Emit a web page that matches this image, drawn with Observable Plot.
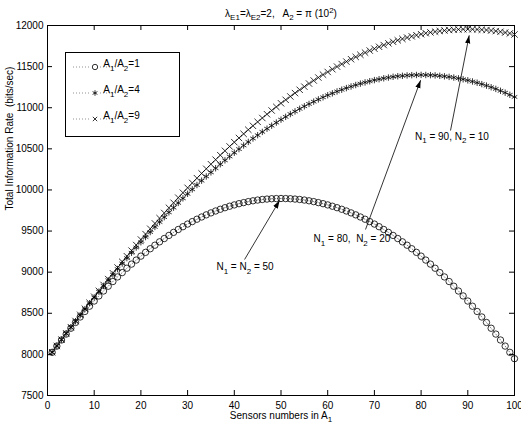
<!DOCTYPE html>
<html><head><meta charset="utf-8">
<script src="https://cdn.jsdelivr.net/npm/d3@7"></script>
<script src="https://cdn.jsdelivr.net/npm/@observablehq/plot@0.6"></script>
<style>
html,body{margin:0;padding:0;background:#fff;}
svg text{font-family:"Liberation Sans",Arial,Helvetica,sans-serif;}
</style></head><body><div id="chart"></div>
<script>
// ---- data ----
const sensorsA1 = d3.range(1, 101); // N1 = 1..100
const rateRatio1 = [8025, 8101, 8175, 8247, 8318, 8388, 8455, 8522, 8586, 8649,
 8711, 8771, 8829, 8886, 8942, 8995, 9048, 9098, 9147, 9195,
 9241, 9285, 9328, 9369, 9409, 9447, 9484, 9519, 9553, 9585,
 9615, 9644, 9671, 9697, 9721, 9744, 9765, 9784, 9802, 9818,
 9833, 9846, 9858, 9868, 9877, 9884, 9889, 9893, 9895, 9896,
 9895, 9893, 9889, 9884, 9877, 9868, 9858, 9846, 9833, 9818,
 9802, 9784, 9765, 9744, 9721, 9697, 9671, 9644, 9615, 9585,
 9553, 9519, 9484, 9447, 9409, 9369, 9328, 9285, 9241, 9195,
 9147, 9098, 9048, 8995, 8942, 8886, 8829, 8771, 8711, 8649,
 8586, 8522, 8455, 8388, 8318, 8247, 8175, 8101, 8025, 7948];
const rateRatio4 = [8026, 8103, 8179, 8254, 8329, 8403, 8477, 8550, 8622, 8693,
 8763, 8833, 8902, 8971, 9038, 9105, 9171, 9236, 9300, 9364,
 9427, 9488, 9550, 9610, 9669, 9728, 9785, 9842, 9898, 9953,
 10007, 10060, 10113, 10164, 10214, 10264, 10313, 10360, 10407, 10453,
 10497, 10541, 10584, 10626, 10666, 10706, 10745, 10782, 10819, 10855,
 10889, 10923, 10955, 10987, 11017, 11046, 11074, 11101, 11127, 11152,
 11175, 11198, 11219, 11239, 11258, 11276, 11293, 11308, 11322, 11336,
 11347, 11358, 11367, 11376, 11383, 11388, 11393, 11396, 11398, 11399,
 11398, 11396, 11393, 11388, 11382, 11375, 11367, 11357, 11346, 11333,
 11319, 11304, 11287, 11269, 11249, 11229, 11206, 11183, 11157, 11131];
const rateRatio9 = [8026, 8103, 8180, 8256, 8331, 8406, 8481, 8555, 8628, 8701,
 8773, 8845, 8916, 8987, 9057, 9126, 9194, 9262, 9330, 9397,
 9463, 9528, 9593, 9657, 9720, 9783, 9844, 9906, 9966, 10026,
 10085, 10143, 10201, 10257, 10313, 10368, 10423, 10476, 10529, 10581,
 10632, 10682, 10732, 10780, 10828, 10875, 10921, 10966, 11010, 11054,
 11096, 11137, 11178, 11218, 11256, 11294, 11331, 11367, 11402, 11435,
 11468, 11500, 11531, 11561, 11590, 11618, 11644, 11670, 11695, 11718,
 11741, 11762, 11783, 11802, 11820, 11837, 11853, 11868, 11882, 11894,
 11906, 11916, 11925, 11933, 11939, 11945, 11949, 11952, 11954, 11955,
 11954, 11952, 11949, 11945, 11939, 11932, 11924, 11914, 11904, 11891];

const seriesNames = ["A_{1}/A_{2}=1", "A_{1}/A_{2}=4", "A_{1}/A_{2}=9"];
const seriesSymbols = ["circle", "asterisk", "times"];
const seriesR = [3.2, 3.0, 3.0];

const xTicks = [0, 10, 20, 30, 40, 50, 60, 70, 80, 90, 100];
const yTicks = [7500, 8000, 8500, 9000, 9500, 10000, 10500, 11000, 11500, 12000];

const titleText = "λ_{E1}=λ_{E2}=2,   A_{2} = π (10^{2})";
const xLabelText = "Sensors numbers in A_{1}";
const yLabelText = "Total Information Rate  (bits/sec)";

// annotations (data coordinates)
const annoLabels = ["N_{1} = N_{2} = 50", "N_{1} = 80,  N_{2} = 20", "N_{1} = 90, N_{2} = 10"];
const annoLabelX = [42.3, 65.2, 86.6];
const annoLabelY = [9060, 9400, 10650];
const annoTailX = [42.2, 68.1, 86.3];
const annoTailY = [9154, 9519, 10723];
const annoTipX = [49.7, 79.9, 90.3];
const annoTipY = [9872, 11335, 11880];

// ---- build tables ----
const allSeries = [rateRatio1, rateRatio4, rateRatio9];
const table = allSeries.map((vals, s) => sensorsA1.map((n, i) => ({n, v: vals[i], s})));
const annos = annoLabels.map((t, i) => ({t, lx: annoLabelX[i], ly: annoLabelY[i], x1: annoTailX[i], y1: annoTailY[i], x2: annoTipX[i], y2: annoTipY[i]}));

// filled arrow-head marker
function filledHead(color) {
  return d3.create("svg:marker")
    .attr("viewBox", "-8 -4 8 8")
    .attr("markerWidth", 8)
    .attr("markerHeight", 8)
    .attr("markerUnits", "userSpaceOnUse")
    .attr("refX", 0).attr("refY", 0)
    .attr("orient", "auto")
    .attr("fill", color)
    .attr("stroke", "none")
    .call(m => m.append("path").attr("d", "M-8,-2.6L0,0L-8,2.6Z"))
    .node();
}

const W = 521, H = 431;
const chart = Plot.plot({
  width: W, height: H,
  marginLeft: 47, marginRight: 7, marginTop: 25, marginBottom: 36,
  style: {fontFamily: "Liberation Sans, Arial, Helvetica, sans-serif", fontSize: "10px", background: "white", color: "black"},
  x: {domain: [0, 100]},
  y: {domain: [7500, 12000]},
  marks: [
    Plot.frame({stroke: "black", strokeWidth: 1}),
    Plot.axisX({ticks: xTicks, tickSize: 0, tickPadding: 6, label: null, tickFormat: d => String(d)}),
    Plot.axisY({ticks: yTicks, tickSize: 0, tickPadding: 4, label: null, tickFormat: d => String(d)}),
    Plot.tickX(xTicks, {x: d => d, insetTop: 365, stroke: "black"}),
    Plot.tickX(xTicks, {x: d => d, insetBottom: 365, stroke: "black"}),
    Plot.tickY(yTicks, {y: d => d, insetRight: 462, stroke: "black"}),
    Plot.tickY(yTicks, {y: d => d, insetLeft: 462, stroke: "black"}),
    ...table.map((rows, s) => Plot.line(rows, {x: "n", y: "v", stroke: "black", strokeWidth: 0.5, strokeDasharray: "1,2"})),
    ...table.map((rows, s) => Plot.dot(rows, {x: "n", y: "v", symbol: seriesSymbols[s], r: seriesR[s], stroke: "black", strokeWidth: 0.8, fill: "none"})),
    Plot.link(annos, {x1: "x1", y1: "y1", x2: "x2", y2: "y2", stroke: "black", strokeWidth: 0.8, markerEnd: filledHead}),
    Plot.text(annos, {x: "lx", y: "ly", text: "t", fontSize: 10, fill: "black"}),
    Plot.text([titleText], {frameAnchor: "top", dy: -16, text: d => d, fontSize: 10, fill: "black"}),
    Plot.text([xLabelText], {frameAnchor: "bottom", dy: 23, text: d => d, fontSize: 10, fill: "black"}),
    Plot.text([yLabelText], {frameAnchor: "left", dx: -38, rotate: -90, text: d => d, fontSize: 10, fill: "black"})
  ]
});
document.getElementById("chart").appendChild(chart);

// ---- legend ----
const svg = d3.select(chart);
const lg = svg.append("g");
lg.append("rect").attr("x", 65.5).attr("y", 52.5).attr("width", 114).attr("height", 84)
  .attr("fill", "white").attr("stroke", "black").attr("stroke-width", 1);
const rowY = [67, 93, 119];
const legendR = [2.7, 2.6, 2.1];
const symMap = {circle: d3.symbolCircle, asterisk: d3.symbolAsterisk, times: d3.symbolTimes};
seriesNames.forEach((name, i) => {
  lg.append("line").attr("x1", 73).attr("x2", 117).attr("y1", rowY[i]).attr("y2", rowY[i])
    .attr("stroke", "#777").attr("stroke-width", 0.8).attr("stroke-dasharray", "1,2");
  lg.append("rect").attr("x", 91).attr("y", rowY[i] - 4).attr("width", 8).attr("height", 8).attr("fill", "white");
  lg.append("path").attr("transform", `translate(95,${rowY[i]})`)
    .attr("d", d3.symbol(symMap[seriesSymbols[i]], Math.PI * legendR[i] * legendR[i])())
    .attr("fill", "none").attr("stroke", "black").attr("stroke-width", 0.8);
  lg.append("text").attr("x", 121.5).attr("y", rowY[i]).attr("dy", "0.32em")
    .attr("font-size", 10).attr("fill", "black").text(name);
});

// ---- sub/superscript rendering ----
function richify(el) {
  const s = el.textContent;
  if (!/[_^]\{/.test(s)) return;
  const parts = [];
  const re = /([_^])\{([^}]*)\}/g;
  let last = 0, m;
  while ((m = re.exec(s))) {
    if (m.index > last) parts.push({t: s.slice(last, m.index), k: ""});
    parts.push({t: m[2], k: m[1]});
    last = re.lastIndex;
  }
  if (last < s.length) parts.push({t: s.slice(last), k: ""});
  while (el.firstChild) el.removeChild(el.firstChild);
  let shift = 0;
  for (const p of parts) {
    const ts = document.createElementNS("http://www.w3.org/2000/svg", "tspan");
    const target = p.k === "_" ? 3.5 : p.k === "^" ? -4 : 0;
    ts.setAttribute("dy", target - shift);
    shift = target;
    if (p.k) ts.setAttribute("font-size", "8");
    ts.textContent = p.t;
    el.appendChild(ts);
  }
}
chart.querySelectorAll("text").forEach(richify);
</script></body></html>
